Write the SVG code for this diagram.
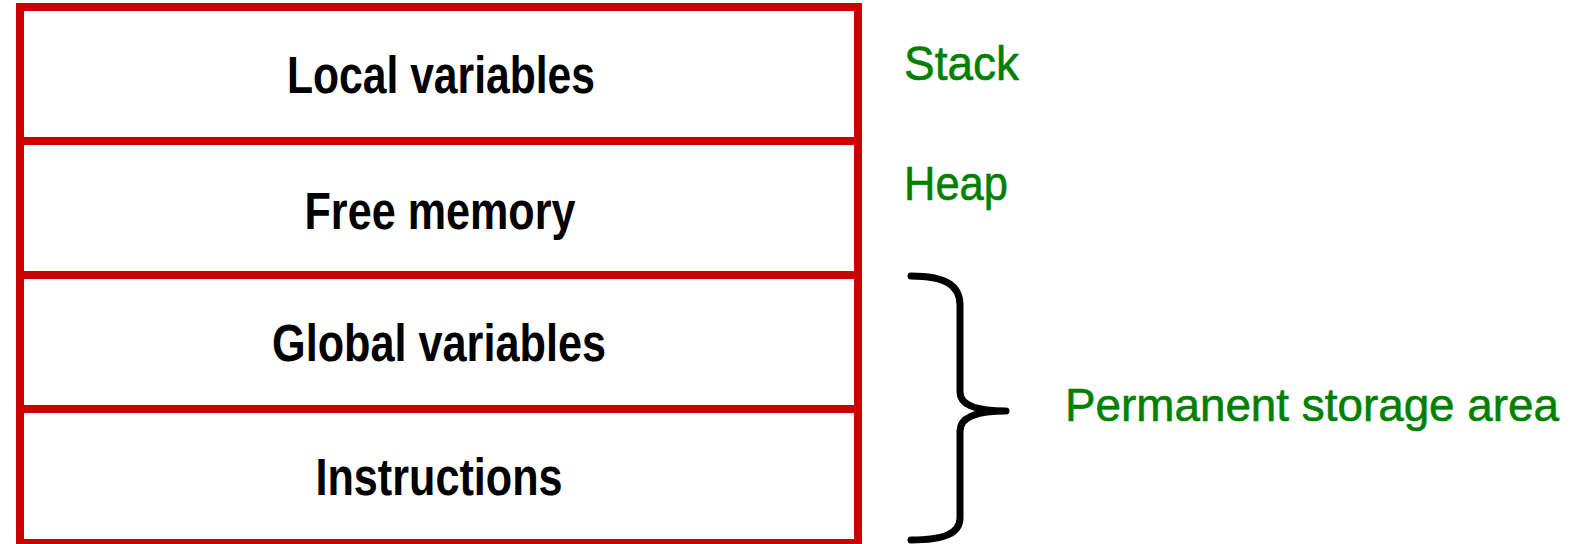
<svg xmlns="http://www.w3.org/2000/svg" width="1579" height="544" viewBox="0 0 1579 544">
  <style>
    .cell { fill: #ffffff; stroke: #cc0000; stroke-width: 8; }
    .cell-label { font-family: "Liberation Sans", Arial, sans-serif; font-size: 51px; font-weight: bold; fill: #000000; text-anchor: middle; }
    .region { font-family: "Liberation Sans", Arial, sans-serif; font-size: 49px; fill: #008000; stroke: #008000; stroke-width: 0.6; }
    .region-long { font-size: 46px; }
    .brace { fill: none; stroke: #000000; stroke-width: 7; stroke-linecap: round; stroke-linejoin: round; }
  </style>
  <rect width="1579" height="544" fill="#ffffff"/>

  <!-- memory layout, top to bottom -->
  <g id="local-variables">
    <rect class="cell" x="20" y="7" width="838" height="134"/>
    <text class="cell-label" x="441" y="93" textLength="308" lengthAdjust="spacingAndGlyphs">Local variables</text>
  </g>
  <g id="free-memory">
    <rect class="cell" x="20" y="141" width="838" height="134"/>
    <text class="cell-label" x="440" y="229" textLength="271" lengthAdjust="spacingAndGlyphs">Free memory</text>
  </g>
  <g id="global-variables">
    <rect class="cell" x="20" y="275" width="838" height="134"/>
    <text class="cell-label" x="439" y="361" textLength="334" lengthAdjust="spacingAndGlyphs">Global variables</text>
  </g>
  <g id="instructions">
    <rect class="cell" x="20" y="409" width="838" height="134"/>
    <text class="cell-label" x="439" y="495" textLength="247" lengthAdjust="spacingAndGlyphs">Instructions</text>
  </g>

  <!-- region labels -->
  <g id="stack-label">
    <text class="region" x="904" y="80" textLength="115" lengthAdjust="spacingAndGlyphs">Stack</text>
  </g>
  <g id="heap-label">
    <text class="region" x="904" y="200" textLength="104" lengthAdjust="spacingAndGlyphs">Heap</text>
  </g>
  <g id="permanent-label">
    <text class="region region-long" x="1065" y="421" textLength="494" lengthAdjust="spacingAndGlyphs">Permanent storage area</text>
  </g>

  <!-- brace grouping the two lower cells -->
  <g id="connectors">
    <path class="brace" d="M 911 276 C 945 276 960 285 960 305 L 960 392 C 960 405 975 411 1006 411 C 975 411 960 418 960 431 L 960 518 C 960 533 945 540 911 540"/>
  </g>
</svg>
